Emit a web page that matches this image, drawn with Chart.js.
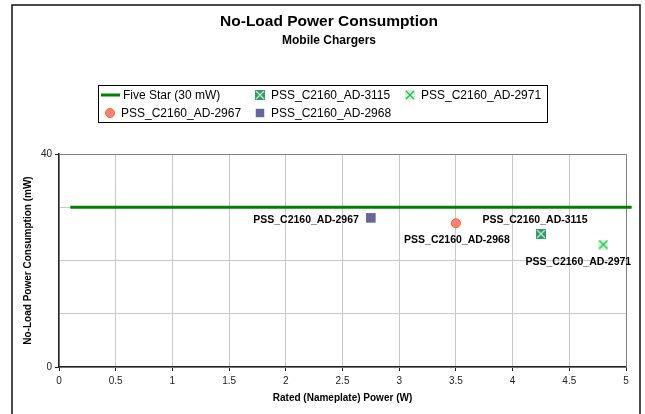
<!DOCTYPE html>
<html>
<head>
<meta charset="utf-8">
<script src="https://cdn.jsdelivr.net/npm/chart.js@4.4.0/dist/chart.umd.min.js"></script>
<style>
  body { margin: 0; background: #fff; }
  #wrap { width: 645px; height: 414px; }
</style>
</head>
<body>
<div id="wrap"><canvas id="chart" width="645" height="414"></canvas></div>
<script>
// series names, in legend order
const seriesNames = ['Five Star (30 mW)', 'PSS_C2160_AD-3115', 'PSS_C2160_AD-2971', 'PSS_C2160_AD-2967', 'PSS_C2160_AD-2968'];
// Five Star limit line
const fiveStarX = [0.1, 5.05];
const fiveStarY = [30, 30];
// measured units: AD-3115, AD-2971, AD-2967, AD-2968
const ratedPower = [4.25, 4.8, 3.5, 2.75];
const noLoadPower = [25, 23, 27, 28];
// labels written next to the points (as in the original sheet)
const pointLabels = ['PSS_C2160_AD-3115', 'PSS_C2160_AD-2971', 'PSS_C2160_AD-2968', 'PSS_C2160_AD-2967'];
const yTickLabels = [0, 40];
const chartTitle = 'No-Load Power Consumption';
const chartSubtitle = 'Mobile Chargers';

const FONT = 'Arial, "Liberation Sans", sans-serif';

// X-in-square markers
function crossBox(bg, fg) {
    const c = document.createElement('canvas');
    c.width = 10; c.height = 10;
    const g = c.getContext('2d');
    g.fillStyle = bg;
    g.fillRect(0, 0, 10, 10);
    g.strokeStyle = fg;
    g.lineWidth = 1.3;
    g.beginPath();
    g.moveTo(1, 1); g.lineTo(9, 9);
    g.moveTo(9, 1); g.lineTo(1, 9);
    g.stroke();
    return c;
}
const markerA = crossBox('#339966', '#b8e8cc');
const markerB = crossBox('#ccffcc', '#33aa66');

const pts = (i) => [{ x: ratedPower[i], y: noLoadPower[i] }];

const datasets = [
    {
        label: seriesNames[0],
        data: fiveStarX.map((x, i) => ({ x: x, y: fiveStarY[i] })),
        showLine: true,
        borderColor: '#008000',
        backgroundColor: '#008000',
        borderWidth: 3,
        pointRadius: 0,
        clip: false
    },
    { label: seriesNames[1], data: pts(0), pointStyle: markerA, pointRadius: 5, backgroundColor: '#339966', borderWidth: 0 },
    { label: seriesNames[2], data: pts(1), pointStyle: markerB, pointRadius: 5, backgroundColor: '#ccffcc', borderWidth: 0 },
    { label: seriesNames[3], data: pts(2), pointStyle: 'circle', pointRadius: 4.5, backgroundColor: '#ff8080', borderColor: '#ff6600', borderWidth: 1 },
    { label: seriesNames[4], data: pts(3), pointStyle: 'rect', pointRadius: 6.8, backgroundColor: '#666699', borderColor: '#666699', borderWidth: 0 }
];

// where each point label sits relative to its marker
const labelPlace = { 1: [-6, -14, 'center'], 2: [-25, 18, 'center'], 3: [1, 17, 'center'], 4: [-12, 2, 'right'] };

const frame = {
    id: 'frame',
    beforeDraw(chart) {
        const ctx = chart.ctx;
        ctx.save();
        ctx.fillStyle = '#fff';
        ctx.fillRect(0, 0, chart.width, chart.height);
        ctx.strokeStyle = '#111';
        ctx.lineWidth = 1.5;
        ctx.strokeRect(12, 5, 628, 430);
        ctx.fillStyle = '#000';
        ctx.textAlign = 'center';
        ctx.textBaseline = 'middle';
        ctx.font = 'bold 15.5px ' + FONT;
        ctx.fillText(chartTitle, 329, 22);
        ctx.font = 'bold 12px ' + FONT;
        ctx.fillText(chartSubtitle, 329, 41);
        ctx.restore();
    },
    beforeDatasetsDraw(chart) {
        const a = chart.chartArea, ctx = chart.ctx;
        ctx.save();
        ctx.strokeStyle = '#808080';
        ctx.lineWidth = 1;
        ctx.beginPath();
        ctx.moveTo(a.left, a.top + 0.5);
        ctx.lineTo(a.right + 0.5, a.top + 0.5);
        ctx.lineTo(a.right + 0.5, a.bottom);
        ctx.stroke();
        ctx.restore();
    }
};

const sheetLegend = {
    id: 'sheetLegend',
    afterDraw(chart) {
        const ctx = chart.ctx;
        ctx.save();
        ctx.strokeStyle = '#000';
        ctx.lineWidth = 1;
        ctx.strokeRect(98.5, 85.5, 449, 37);
        ctx.font = '12px ' + FONT;
        ctx.textBaseline = 'middle';
        ctx.fillStyle = '#000';
        const cols = [110, 260, 410];
        const rows = [95, 113];
        chart.data.datasets.forEach((ds, i) => {
            const x = cols[i % 3], y = rows[Math.floor(i / 3)];
            if (i === 0) {
                ctx.strokeStyle = ds.borderColor;
                ctx.lineWidth = 3;
                ctx.beginPath();
                ctx.moveTo(101, y);
                ctx.lineTo(120, y);
                ctx.stroke();
            } else {
                ctx.fillStyle = ds.backgroundColor;
                ctx.strokeStyle = ds.borderColor || ds.backgroundColor;
                ctx.lineWidth = ds.borderWidth;
                const r = ds.pointStyle === 'rect' ? 6 : ds.pointRadius;
                Chart.helpers.drawPoint(ctx, { pointStyle: ds.pointStyle, radius: r, rotation: 0, borderWidth: ds.borderWidth }, x, y);
            }
            ctx.fillStyle = '#000';
            ctx.textAlign = 'left';
            ctx.fillText(ds.label, i === 0 ? 123 : x + 11, y + 0.5);
        });
        ctx.restore();
    }
};

const pointText = {
    id: 'pointText',
    afterDatasetsDraw(chart) {
        const ctx = chart.ctx;
        ctx.save();
        ctx.font = 'bold 10.5px ' + FONT;
        ctx.fillStyle = '#000';
        ctx.textBaseline = 'middle';
        for (let i = 1; i < chart.data.datasets.length; i++) {
            const p = chart.getDatasetMeta(i).data[0];
            const [dx, dy, al] = labelPlace[i];
            ctx.textAlign = al;
            ctx.fillText(pointLabels[i - 1], p.x + dx, p.y + dy);
        }
        ctx.restore();
    }
};

new Chart(document.getElementById('chart'), {
    type: 'scatter',
    data: { datasets: datasets },
    options: {
        responsive: false,
        animation: false,
        layout: { padding: { top: 154, left: 0, right: 19, bottom: 0 } },
        plugins: {
            legend: { display: false },
            tooltip: { enabled: false }
        },
        scales: {
            x: {
                type: 'linear',
                min: 0,
                max: 5,
                afterFit: (s) => { s.height = 47; },
                ticks: {
                    stepSize: 0.5,
                    color: '#222',
                    font: { family: FONT, size: 10 },
                    padding: 4,
                    maxRotation: 0,
                    callback: (v) => String(v)
                },
                grid: { color: '#c8c8c8', tickColor: '#222', tickLength: 4 },
                border: { color: '#222', width: 1.5 },
                title: {
                    display: true,
                    text: 'Rated (Nameplate) Power (W)',
                    color: '#000',
                    font: { family: FONT, size: 10, weight: 'bold' },
                    padding: { top: 0, bottom: 10 }
                }
            },
            y: {
                type: 'linear',
                min: 0,
                max: 40,
                afterFit: (s) => { s.width = 59; },
                ticks: {
                    stepSize: 10,
                    color: '#222',
                    font: { family: FONT, size: 10 },
                    padding: 3,
                    callback: (v) => yTickLabels.includes(v) ? String(v) : ''
                },
                grid: {
                    color: '#c8c8c8',
                    tickColor: (c) => (c.tick && yTickLabels.includes(c.tick.value)) ? '#222' : 'rgba(0,0,0,0)',
                    tickLength: 4
                },
                border: { color: '#222', width: 1.5 },
                title: {
                    display: true,
                    text: 'No-Load Power Consumption (mW)',
                    color: '#000',
                    font: { family: FONT, size: 10, weight: 'bold' },
                    padding: { top: 22, bottom: 0 }
                }
            }
        }
    },
    plugins: [frame, sheetLegend, pointText]
});
</script>
</body>
</html>
